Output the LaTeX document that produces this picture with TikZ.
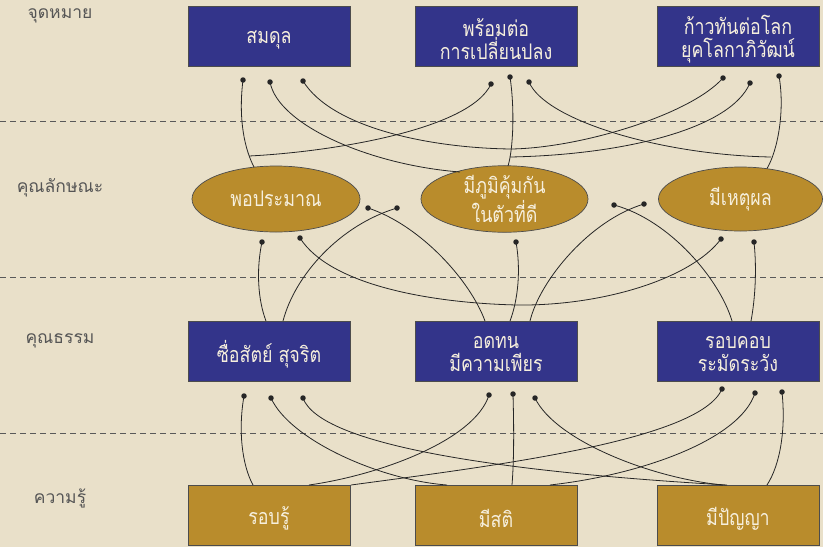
\documentclass[tikz,border=0pt]{standalone}
\usepackage{fontspec}
\newfontfamily\thai[Script=Thai,FakeStretch=0.83]{Loma}
\newfontfamily\thailbl[Script=Thai]{Loma}
\usetikzlibrary{shapes.geometric}
\definecolor{bg}{HTML}{E9E0C9}
\definecolor{navy}{HTML}{33348A}
\definecolor{gold}{HTML}{B98C2C}
\definecolor{cream}{HTML}{F6EFDD}
\definecolor{lbl}{HTML}{555555}
\begin{document}
\begin{tikzpicture}[x=1pt,y=-1pt,
 goalbox/.style={draw=black!70, line width=0.7pt, fill=navy, minimum width=162pt, minimum height=60pt, inner sep=0pt},
 knowbox/.style={goalbox, fill=gold},
 boxtext/.style={text=cream, font=\thai\fontsize{21.5}{23}\selectfont, align=center, inner sep=0pt, yshift=-3.5pt},
 traitell/.style={ellipse, draw=black!70, line width=0.7pt, fill=gold, inner sep=0pt, text=cream, font=\thai\fontsize{21.5}{24}\selectfont, align=center},
 dot/.style={circle, fill=black!85, inner sep=0pt, minimum size=5.5pt},
 link/.style={draw=black!85, line width=0.8pt},
 sepline/.style={draw=black!65, line width=0.8pt, dash pattern=on 6pt off 4pt},
 rowlabel/.style={text=lbl, font=\thailbl\fontsize{17.5}{20}\selectfont}
]
\fill[bg] (0,0) rectangle (823,547);
\useasboundingbox (0,0) rectangle (823,547);

% separators
\draw[sepline] (0,121) -- (823,121);
\draw[sepline] (0,277) -- (823,277);
\draw[sepline] (0,433) -- (823,433);

% row labels
\node[rowlabel] (L1) at (60,16) {จุดหมาย};
\node[rowlabel] (L2) at (60,188) {คุณลักษณะ};
\node[rowlabel] (L3) at (60,341) {คุณธรรม};
\node[rowlabel] (L4) at (60,498) {ความรู้};

% goal boxes
\node[goalbox] (G1) at (269,36) {};
\node[goalbox] (G2) at (496,36) {};
\node[goalbox] (G3) at (738,36) {};
\node[boxtext] (G1t) at (G1) {สมดุล};
\node[boxtext] (G2t) at (G2) {พร้อมต่อ\\การเปลี่ยนปลง};
\node[boxtext] (G3t) at (G3) {ก้าวทันต่อโลก\\ยุคโลกาภิวัฒน์};

% trait ellipses
\node[traitell, minimum width=168pt, minimum height=66pt] (E1) at (276,199) {พอประมาณ};
\node[traitell, minimum width=167pt, minimum height=66pt] (E2) at (504.5,199) {มีภูมิคุ้มกัน\\ในตัวที่ดี};
\node[traitell, minimum width=164pt, minimum height=64pt] (E3) at (740.5,199) {มีเหตุผล};

% virtue boxes
\node[goalbox] (M1) at (269,351) {};
\node[goalbox] (M2) at (496,351) {};
\node[goalbox] (M3) at (738,351) {};
\node[boxtext] (M1t) at (M1) {ซื่อสัตย์ สุจริต};
\node[boxtext] (M2t) at (M2) {อดทน\\มีความเพียร};
\node[boxtext] (M3t) at (M3) {รอบคอบ\\ระมัดระวัง};

% knowledge boxes
\node[knowbox] (K1) at (269,515) {};
\node[knowbox] (K2) at (496,515) {};
\node[knowbox] (K3) at (738,515) {};
\node[boxtext] (K1t) at (K1) {รอบรู้};
\node[boxtext] (K2t) at (K2) {มีสติ};
\node[boxtext] (K3t) at (K3) {มีปัญญา};

% ---- top section ----
\node[dot] (ta1) at (243,80) {};
\node[dot] (ta2) at (270,82) {};
\node[dot] (ta3) at (303,81) {};
\node[dot] (tb1) at (491,84) {};
\node[dot] (tb2) at (510,77) {};
\node[dot] (tb3) at (529,82) {};
\node[dot] (tc1) at (723,78) {};
\node[dot] (tc2) at (750,83) {};
\node[dot] (tc3) at (779,76) {};
\coordinate (E1t) at (254,167);
\coordinate (E2t) at (508,166);
\coordinate (E2l) at (460,172);
\coordinate (E3t) at (767,168.5);
\coordinate (J1) at (249,156);
\coordinate (J2) at (510,157);
\coordinate (J3) at (771,157);
\coordinate (U1) at (511,149);

\draw[link] (ta1.center) .. controls (238,120) and (245,150) .. (E1t);
\draw[link] (tb1.center) .. controls (470,130) and (330,152) .. (J1);
\draw[link] (ta2.center) .. controls (278,125) and (370,165) .. (E2l);
\draw[link] (ta3.center) .. controls (332,128) and (430,148) .. (U1);
\draw[link] (U1) .. controls (580,148) and (690,115) .. (tc1.center);
\draw[link] (tb2.center) .. controls (515,110) and (513,150) .. (E2t);
\draw[link] (tc2.center) .. controls (730,130) and (620,155) .. (J2);
\draw[link] (tb3.center) .. controls (545,120) and (660,155) .. (J3);
\draw[link] (tc3.center) .. controls (785,110) and (778,150) .. (E3t);

% ---- middle section ----
\node[dot] (ea1) at (262,242) {};
\node[dot] (ea2) at (300,238) {};
\node[dot] (ea3) at (368,208) {};
\node[dot] (ea4) at (397,208) {};
\node[dot] (eb1) at (516,242) {};
\node[dot] (eb2) at (614,205) {};
\node[dot] (eb3) at (644,204) {};
\node[dot] (ec1) at (721,239) {};
\node[dot] (ec2) at (754,242) {};
\coordinate (M1a) at (266,321);
\coordinate (M1b) at (283,321);
\coordinate (M2a) at (485,321);
\coordinate (M2b) at (510,321);
\coordinate (M2c) at (530,321);
\coordinate (M3a) at (732,321);
\coordinate (M3b) at (751,321);
\coordinate (U2) at (517,305);

\draw[link] (ea1.center) .. controls (256,270) and (258,300) .. (M1a);
\draw[link] (ea2.center) .. controls (330,285) and (430,303) .. (U2);
\draw[link] (U2) .. controls (600,306) and (690,280) .. (ec1.center);
\draw[link] (ea3.center) .. controls (420,225) and (470,280) .. (M2a);
\draw[link] (ea4.center) .. controls (340,225) and (295,275) .. (M1b);
\draw[link] (eb1.center) .. controls (521,270) and (518,300) .. (M2b);
\draw[link] (eb2.center) .. controls (670,220) and (720,280) .. (M3a);
\draw[link] (eb3.center) .. controls (590,220) and (540,280) .. (M2c);
\draw[link] (ec2.center) .. controls (757,270) and (755,300) .. (M3b);

% ---- bottom section ----
\node[dot] (ma1) at (244,396) {};
\node[dot] (ma2) at (271,398) {};
\node[dot] (ma3) at (303,398) {};
\node[dot] (mb1) at (489,395) {};
\node[dot] (mb2) at (513,394) {};
\node[dot] (mb3) at (535,398) {};
\node[dot] (mc1) at (722,389) {};
\node[dot] (mc2) at (755,393) {};
\node[dot] (mc3) at (782,392) {};
\coordinate (K1a) at (253,485);
\coordinate (K1b) at (309,485);
\coordinate (K1c) at (351,485);
\coordinate (K2a) at (447,485);
\coordinate (K2b) at (512,485);
\coordinate (K2c) at (550,485);
\coordinate (K3a) at (723,485);
\coordinate (K3b) at (727,485);
\coordinate (K3c) at (767,485);

\draw[link] (ma1.center) .. controls (238,430) and (242,465) .. (K1a);
\draw[link] (ma2.center) .. controls (290,440) and (380,480) .. (K2a);
\draw[link] (ma3.center) .. controls (320,445) and (500,472) .. (K3b);
\draw[link] (mb1.center) .. controls (475,440) and (380,475) .. (K1b);
\draw[link] (mb2.center) .. controls (514,430) and (514,460) .. (K2b);
\draw[link] (mb3.center) .. controls (555,440) and (650,478) .. (K3a);
\draw[link] (mc1.center) .. controls (700,440) and (500,465) .. (K1c);
\draw[link] (mc2.center) .. controls (740,440) and (640,475) .. (K2c);
\draw[link] (mc3.center) .. controls (786,430) and (780,465) .. (K3c);
\end{tikzpicture}
\end{document}
